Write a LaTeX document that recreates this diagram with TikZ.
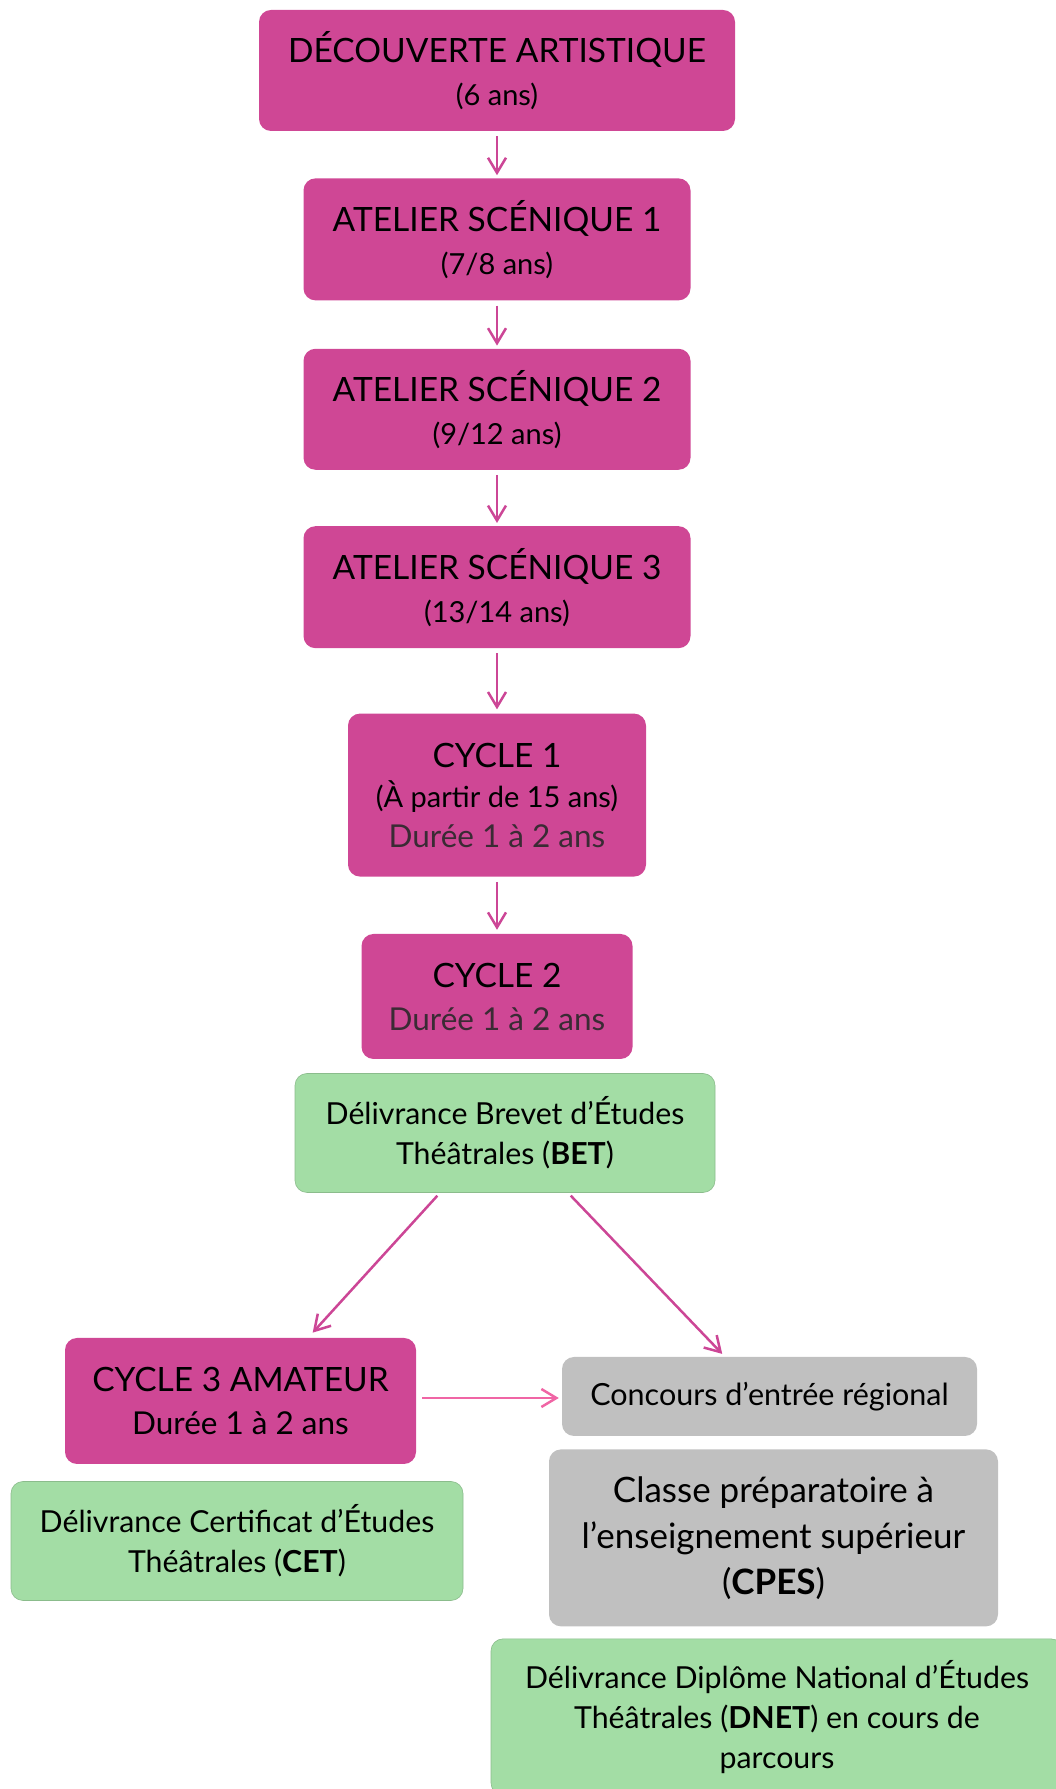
\documentclass[tikz,border=0pt]{standalone}
\usepackage{fontspec}
\setmainfont{Lato}
\usepackage{xcolor}
\usetikzlibrary{positioning, arrows.meta, calc}
\definecolor{magbox}{HTML}{CF4795}
\definecolor{magarrow}{HTML}{CC4696}
\definecolor{pinkarrow}{HTML}{F065A5}
\definecolor{greenbox}{HTML}{A3DDA5}
\definecolor{graybox}{HTML}{C0C0C0}
\definecolor{durgray}{HTML}{3A2B34}
\newcommand{\agesize}{\fontsize{29}{43}\selectfont}
\newcommand{\dureesize}{\fontsize{31.5}{43}\selectfont}
\tikzstyle{arrow} = [line width=2.5pt, -{Straight Barb[length=15pt,width=18pt]}, draw=magarrow]

\begin{document}
\begin{tikzpicture}[x=1pt, y=1pt,
    stage/.style={rectangle, rounded corners=12pt, fill=magbox, align=center, inner sep=0pt, font=\fontsize{33.5}{43}\selectfont},
    diploma/.style={rectangle, rounded corners=12pt, fill=greenbox, draw=greenbox!85!black, line width=0.6pt, align=center, inner sep=0pt, font=\fontsize{30.3}{40}\selectfont},
    exam/.style={rectangle, rounded corners=12pt, fill=graybox, align=center, inner sep=0pt, font=\fontsize{30.5}{46}\selectfont}]
    \useasboundingbox (0,0) rectangle (1056,1789);

    % Parcours initial
    \node[stage, minimum width=476pt, minimum height=121pt] (decouverte) at (497,1718.5) {DÉCOUVERTE ARTISTIQUE\\{\agesize (6 ans)}};
    \node[stage, minimum width=387pt, minimum height=122pt, below=47pt of decouverte] (atelier1) {ATELIER SCÉNIQUE 1\\{\agesize (7/8 ans)}};
    \node[stage, minimum width=387pt, minimum height=121pt, below=48pt of atelier1] (atelier2) {ATELIER SCÉNIQUE 2\\{\agesize (9/12 ans)}};
    \node[stage, minimum width=387pt, minimum height=122pt, below=56pt of atelier2] (atelier3) {ATELIER SCÉNIQUE 3\\{\agesize (13/14 ans)}};

    % Cycles
    \node[stage, minimum width=298pt, minimum height=163pt, below=65pt of atelier3] (cycle1) {CYCLE 1\\[-3pt]{\agesize (À partir de 15 ans)}\\[-3pt]{\dureesize\color{durgray} Durée 1 à 2 ans}};
    \node[stage, minimum width=271pt, minimum height=125pt, below=57pt of cycle1] (cycle2) {CYCLE 2\\{\dureesize\color{durgray} Durée 1 à 2 ans}};
    \node[diploma, minimum width=420pt, minimum height=119pt, below=14pt of cycle2, xshift=8pt] (bet) {Délivrance Brevet d’Études\\Théâtrales (\textbf{BET})};

    % Filiere amateur
    \node[stage, minimum width=351pt, minimum height=126pt] (cycle3) at (240.5,388) {CYCLE 3 AMATEUR\\{\dureesize Durée 1 à 2 ans}};
    \node[diploma, minimum width=452pt, minimum height=119pt, below=17pt of cycle3, xshift=-3.5pt] (cet) {Délivrance Certificat d’Études\\Théâtrales (\textbf{CET})};

    % Filiere pre-professionnelle
    \node[exam, minimum width=415pt, minimum height=79pt] (concours) at (769.5,392.5) {Concours d’entrée régional};
    \node[exam, minimum width=449pt, minimum height=177pt, below=13pt of concours, xshift=4pt, font=\fontsize{35}{46}\selectfont] (cpes) {Classe préparatoire à\\l’enseignement supérieur\\(\textbf{CPES})};
    \node[diploma, minimum width=572pt, minimum height=156pt, below=12pt of cpes, xshift=3.5pt] (dnet) {Délivrance Diplôme National d’Études\\Théâtrales (\textbf{DNET}) en cours de\\parcours};

    % Arrows
    \draw[arrow, shorten <=5pt, shorten >=3pt] (decouverte) -- (atelier1);
    \draw[arrow, shorten <=5pt, shorten >=3pt] (atelier1) -- (atelier2);
    \draw[arrow, shorten <=5pt, shorten >=3pt] (atelier2) -- (atelier3);
    \draw[arrow, shorten <=5pt, shorten >=4pt] (atelier3) -- (cycle1);
    \draw[arrow, shorten <=5pt, shorten >=4pt] (cycle1) -- (cycle2);
    \draw[arrow, shorten <=4pt, shorten >=7pt] ([xshift=-65pt]bet.south) -- ([xshift=67.5pt]cycle3.north);
    \draw[arrow, shorten <=4pt, shorten >=4pt] ([xshift=63pt]bet.south) -- ([xshift=-44.5pt]concours.north);
    \draw[arrow, draw=pinkarrow, shorten <=6pt, shorten >=3pt] ([yshift=3pt]cycle3.east) -- ([yshift=3pt]cycle3.east -| concours.west);
\end{tikzpicture}
\end{document}
